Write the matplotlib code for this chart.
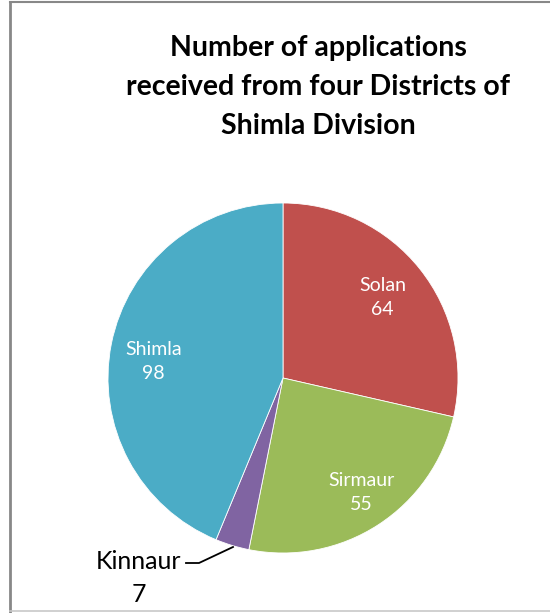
import matplotlib
matplotlib.use("Agg")
import matplotlib.pyplot as plt
import numpy as np

# ── Dados ────────────────────────────────────────────────────────────────────
districts = ["Solan", "Sirmaur", "Kinnaur", "Shimla"]
applications = [64, 55, 7, 98]
colors = ["#C0504D", "#9BBB59", "#8064A2", "#4BACC6"]

TITLE = "Number of applications\nreceived from four Districts of\nShimla Division"
FONT = ["Lato", "DejaVu Sans"]

W, H = 550, 613
fig = plt.figure(figsize=(W / 100, H / 100), dpi=100, facecolor="white")

# moldura cinza (estilo Excel)
fig.add_artist(plt.Line2D([10 / W, 10 / W], [0, 1 - 2 / H], color="#888888", lw=2))
fig.add_artist(plt.Line2D([10 / W, 1], [1 - 2 / H, 1 - 2 / H], color="#888888", lw=1.5))
fig.add_artist(plt.Line2D([10 / W, 1], [2 / H, 2 / H], color="#C8C8C8", lw=1.2))

# ── Pizza ─────────────────────────────────────────────────────────────────────
cx, cy, r = 283, 378, 175
ax = fig.add_axes([(cx - r) / W, 1 - (cy + r) / H, 2 * r / W, 2 * r / H])
wedges, _ = ax.pie(applications, colors=colors, startangle=90, counterclock=False,
                   radius=1.0, wedgeprops=dict(linewidth=0.6, edgecolor="white"))
ax.set_xlim(-1, 1)
ax.set_ylim(-1, 1)
ax.set_aspect("auto")
ax.axis("off")

# rótulos internos (posições em fração do raio)
label_pos = {"Solan": (0.57, 0.46), "Sirmaur": (0.45, -0.655), "Shimla": (-0.74, 0.095)}
for name, val in zip(districts, applications):
    if name in label_pos:
        x, y = label_pos[name]
        ax.text(x, y, f"{name}\n{val}", color="white", fontsize=14,
                ha="center", va="center", family=FONT, linespacing=1.45)

# Kinnaur fora da pizza, com linha guia
k_val = applications[districts.index("Kinnaur")]
ax.plot([(186 - cx) / r, (199 - cx) / r, (233 - cx) / r],
        [-(563 - cy) / r, -(563 - cy) / r, -(547 - cy) / r],
        color="black", lw=1.3, clip_on=False)
fig.text(139 / W, 1 - 578 / H, f"Kinnaur\n{k_val}", color="black", fontsize=18,
         ha="center", va="center", family=FONT, linespacing=1.55)

# ── Título ────────────────────────────────────────────────────────────────────
fig.text(318 / W, 1 - 87 / H, TITLE, color="black", fontsize=20.5, fontweight="bold",
         ha="center", va="center", family=FONT, linespacing=1.6)

fig.savefig("out.png", dpi=100, facecolor="white")
plt.close(fig)
